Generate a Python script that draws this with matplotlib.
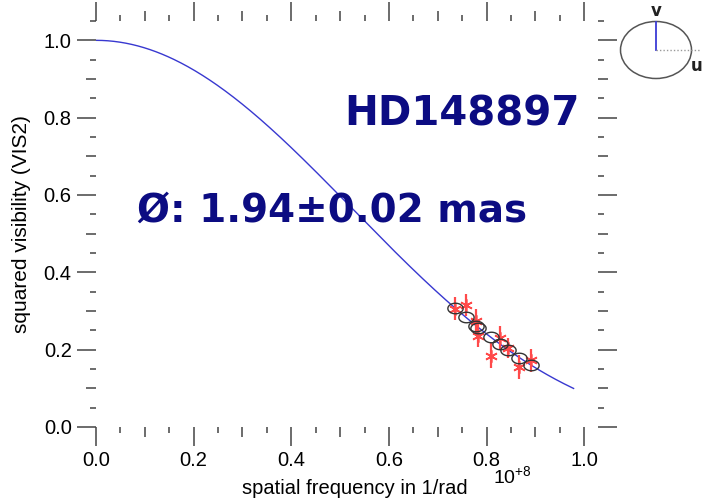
import numpy as np
import matplotlib
matplotlib.use("Agg")
import matplotlib.pyplot as plt
from matplotlib.patches import Ellipse
from matplotlib.path import Path
from matplotlib.ticker import FixedLocator, FuncFormatter

# measured squared visibilities (spatial frequency in units of 1e8 rad^-1)
freq = [0.736, 0.757, 0.778, 0.783, 0.808, 0.827, 0.844, 0.867, 0.890]
vis2 = [0.306, 0.315, 0.274, 0.236, 0.184, 0.230, 0.204, 0.155, 0.172]
vis2_err = [0.030, 0.028, 0.032, 0.030, 0.032, 0.030, 0.026, 0.030, 0.031]

star_name = "HD148897"
theta_ld = 1.94      # limb-darkened diameter, mas
theta_ld_err = 0.02
ld_coeff = 0.56      # linear limb-darkening coefficient
freq_max_model = 0.978

MAS = np.pi / 180 / 3600 / 1000


def bessel_j1(x):
    tau = np.linspace(0, np.pi, 801)
    integrand = np.cos(tau[None, :] - x[:, None] * np.sin(tau)[None, :])
    return np.trapezoid(integrand, tau, axis=1) / np.pi


def ld_vis2(f, theta, a):
    x = np.pi * theta * MAS * np.asarray(f, dtype=float) * 1e8
    x = np.maximum(x, 1e-3)
    ud = bessel_j1(x) / x
    ld = (np.sin(x) - x * np.cos(x)) / x**3
    v = ((1 - a) * ud + a * ld) / ((1 - a) / 2 + a / 3)
    return v**2


fig = plt.figure(figsize=(7.03, 5.03), dpi=100)
ax = fig.add_axes([96 / 703, 1 - 427 / 503, (598 - 96) / 703, (427 - 21) / 503])

f_model = np.linspace(0, freq_max_model, 400)
ax.plot(f_model, ld_vis2(f_model, theta_ld, ld_coeff), color="#3838d0", lw=1.0, zorder=2)

ax.errorbar(freq, vis2, yerr=vis2_err, fmt="none", ecolor="#ff4a4a", elinewidth=1.6, capsize=0, zorder=3)
ax.plot(freq, vis2, ls="none", marker=(6, 2, 0), ms=9, mec="#ff4a4a", mew=1.2, zorder=4)

# model values at the observed frequencies, drawn as small open ellipses
t = np.linspace(0, 2 * np.pi, 60)
ell_marker = Path(np.column_stack([1.45 * np.cos(t), np.sin(t)]))
ax.plot(freq, ld_vis2(freq, theta_ld, ld_coeff), ls="none", marker=ell_marker, ms=11,
        mfc="none", mec="#333333", mew=1.0, zorder=5)

ax.set_xlim(0, 1.028)
ax.set_ylim(0, 1.05)
for s in ax.spines.values():
    s.set_visible(False)

ax.xaxis.set_major_locator(FixedLocator(np.round(np.arange(0, 1.001, 0.05), 2)))
ax.yaxis.set_major_locator(FixedLocator(np.round(np.arange(0, 1.051, 0.05), 2)))
lab = FuncFormatter(lambda v, p: f"{v:.1f}" if abs(v / 0.2 - round(v / 0.2)) < 1e-6 else "")
ax.xaxis.set_major_formatter(lab)
ax.yaxis.set_major_formatter(lab)
ax.tick_params(axis="both", which="major", direction="out", length=13.5, width=1.1,
               color="#444444", top=True, right=True, labelsize=14.5, pad=4)
for t_ in ax.get_xticklabels() + ax.get_yticklabels():
    t_.set_fontfamily("Liberation Sans")

fig.canvas.draw()
for axis in (ax.xaxis, ax.yaxis):
    locs = axis.get_major_locator()()
    for v, tk in zip(locs, axis.get_major_ticks(len(locs))):
        k = int(round(v / 0.05))
        size = 13.5 if k % 4 == 0 else (7.0 if k % 2 == 0 else 4.5)
        tk.tick1line.set_markersize(size)
        tk.tick2line.set_markersize(size)

ax.set_xlabel("spatial frequency in 1/rad", fontfamily="Liberation Sans", fontsize=14.5)
ax.xaxis.set_label_coords((355 - 96) / 502, (427 - 489) / 406)
ax.xaxis.label.set_va("center")
ax.set_ylabel("squared visibility (VIS2)", fontfamily="Liberation Sans", fontsize=15, labelpad=9)
fig.text(512 / 703, 1 - 476 / 503, r"$\mathregular{10^{+8}}$", fontfamily="Liberation Sans",
         fontsize=14, ha="center", va="center")

navy = "#0c0c82"
fig.text(344 / 703, 1 - 114 / 503, star_name, color=navy, fontsize=29, fontweight="bold",
         ha="left", va="center")
fig.text(137 / 703, 1 - 211 / 503, f"\u00d8: {theta_ld:.2f}\u00b1{theta_ld_err:.2f} mas", color=navy,
         fontsize=28, fontweight="bold", ha="left", va="center")

# uv-plane orientation sketch
uv = fig.add_axes([610 / 703, 1 - 95 / 503, 93 / 703, 95 / 503])
uv.set_xlim(610, 703)
uv.set_ylim(95, 0)
uv.axis("off")
uv.add_patch(Ellipse((656, 50), 71, 57, fill=False, ec="#555555", lw=1.1))
uv.plot([656, 656], [50, 21.5], color="#3b3bd6", lw=1.3)
uv.plot([656, 701], [50, 50], color="#999999", lw=1.0, ls=(0, (1, 1.5)))
uv.text(656, 11, "v", fontsize=12, fontweight="bold", color="#222222", ha="center", va="center")
uv.text(697, 66, "u", fontsize=12, fontweight="bold", color="#222222", ha="center", va="center")

fig.savefig("out.png", dpi=100)
